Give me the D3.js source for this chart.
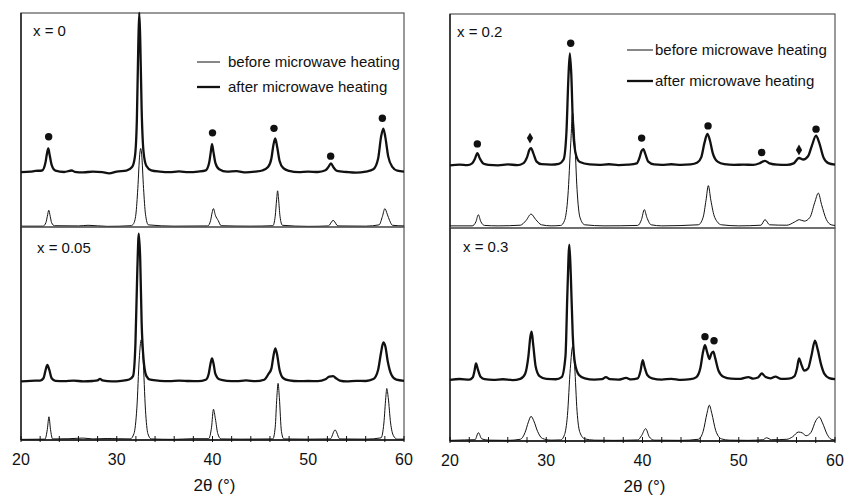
<html>
<head>
  <script src="https://d3js.org/d3.v7.min.js"></script>
  <meta charset="utf-8">
  <title>XRD before / after microwave heating</title>
<style>
body { margin: 0; background: #fff; }
svg { background: #fff; font-family: "Liberation Sans", Arial, sans-serif; }
text { fill: #111; }
</style>
</head>
<body>
<script>
var width = 851,
    height = 495;

// x axis ticks (2theta, degrees)
var majorTicks = [20, 30, 40, 50, 60];
var minorTicks = [22, 24, 26, 28, 32, 34, 36, 38, 42, 44, 46, 48, 52, 54, 56, 58];

// intensities are read as % of panel height, [2theta, I]
var before_x0 = [[20,0.4],[22.3,0.4],[22.6,2],[22.75,5],[22.9,7.8],[23.05,5],[23.2,2],[23.5,0.6],[26,0.5],[27,0.8],[29,0.3],[31.5,0.6],
  [31.75,1.5],[32.0,6],[32.2,18],[32.4,34],[32.5,36.7],[32.6,34],[32.8,18],[33.0,6],[33.3,1],[36,0.4],[39.5,0.5],
  [39.8,3],[39.95,6.5],[40.1,8.6],[40.3,5.5],[40.6,3],[40.9,0.6],[44,0.4],[46.3,0.6],[46.55,5],[46.7,13],[46.8,16.9],[46.9,13],[47.05,5],[47.3,0.8],
  [50,0.3],[52.1,0.5],[52.6,3.1],[53.1,0.5],[56,0.4],[57.4,1],[57.75,5],[58.0,8.6],[58.25,6],[58.5,3],[58.8,0.8],[60,0.5]];
var after_x0 = [[20,25.6],[21,25.9],[21.5,26.2],[22.2,26.4],[22.55,30],[22.7,34],[22.85,36.7],[23.0,33.5],[23.2,29],
  [23.6,26.3],[24.5,25.7],[25.3,26.4],[25.6,25.8],[26.5,25.5],[27.5,25.9],[28.5,25.6],[29.2,25.1],[30,25.9],[31,26.3],
  [31.6,28],[31.9,33],[32.1,50],[32.25,85],[32.35,100],[32.45,88],[32.6,55],[32.8,35],[33.1,28.5],[33.6,26.5],
  [34.5,25.9],[35.5,25.6],[36.5,26.0],[37.5,25.6],[38.5,25.9],[39.3,26.5],[39.65,30],[39.82,35],[39.95,38.7],
  [40.1,35],[40.3,30],[40.7,27],[41.5,25.9],[42.5,26.1],[43.5,25.5],[44.5,25.9],[45.2,26.4],[45.8,28],[46.15,32],
  [46.35,38],[46.55,41.4],[46.75,37.5],[47.0,31],[47.4,27.5],[48,26.2],[49,25.6],[50,25.9],[51,25.7],[51.8,26.5],
  [52.1,28],[52.37,29.7],[52.65,27.8],[53,26.2],[54,25.7],[55,25.4],[56,25.9],[56.8,27],[57.3,32],[57.6,42],
  [57.84,46],[58.05,42],[58.35,33],[58.8,28],[59.3,26.3],[60,25.9]];

var before_x005 = [[20,0.3],[22.5,0.4],[22.75,5],[22.92,10.9],[23.08,5],[23.3,0.5],[25,0.6],[26.5,0.9],[27.5,0.5],
  [29,0.7],[31.4,0.5],[31.8,3],[32.1,15],[32.35,38],[32.55,47],[32.75,38],[33.0,14],[33.25,3],[33.6,0.5],[36,0.3],
  [38,0.6],[39.6,0.6],[39.9,6],[40.1,14.4],[40.3,10],[40.55,3],[40.9,0.5],[43,0.4],[46.3,0.5],[46.55,6],[46.72,20],
  [46.85,26.6],[46.98,20],[47.2,4],[47.45,0.5],[50,0.4],[52.3,0.5],[52.8,4.7],[53.3,0.5],[56,0.4],[57.6,1],[57.9,8],
  [58.1,20],[58.2,24.2],[58.35,20],[58.6,8],[58.9,2],[59.3,0.4],[60,0.4]];
var after_x005 = [[20,27.5],[21,27.8],[22,27.9],[22.35,29],[22.55,32.5],[22.75,35.2],[22.95,33],[23.2,29],[23.6,27.8],
  [24.5,27.6],[25.5,27.9],[26.5,27.5],[27.5,27.7],[28.0,28],[28.25,28.7],[28.5,28],[29.5,27.5],[30.5,27.8],[31.3,28.4],
  [31.7,30],[31.95,45],[32.15,80],[32.3,96.9],[32.45,85],[32.6,55],[32.8,38],[33.1,30],[33.5,28.3],[34.5,27.8],
  [35.5,27.6],[36.5,27.9],[37.5,27.7],[38.5,27.6],[39.3,28.3],[39.6,31],[39.8,36],[39.95,38.3],[40.1,36],[40.3,31],
  [40.7,28.5],[41.5,27.8],[42.5,27.6],[43.5,28],[44.5,27.6],[45.4,28.3],[45.85,31],[46.15,33.5],[46.35,39],
  [46.56,43],[46.75,40],[47.0,33],[47.4,29],[48,28],[49,27.6],[50,27.7],[51,27.6],[51.8,28.5],[52.2,29.8],
  [52.6,30],[52.9,29],[53.3,27.9],[54,27.5],[55,27.8],[56,27.7],[56.8,28.6],[57.3,33],[57.6,41],[57.84,45.8],
  [58.05,44],[58.3,37],[58.7,30.5],[59.2,28.3],[60,27.8]];

var before_x02 = [[20,1],[22.3,1],[22.7,3],[22.94,6.2],[23.2,3],[23.6,1.2],[25,1],[27.3,1.3],[27.9,3.5],[28.42,6.5],
  [28.9,4],[29.5,1.5],[30.5,1],[31.5,1.2],[31.9,3.5],[32.25,15],[32.55,40],[32.74,53.7],[32.95,42],[33.2,18],[33.5,5],
  [34,1.5],[36,1],[39.5,1.2],[39.9,4],[40.19,8.6],[40.45,5],[40.9,1.5],[42,1],[45.8,1.5],[46.3,5],[46.6,13],
  [46.84,19.8],[47.1,13],[47.5,5],[48.2,1.5],[50,1],[52.3,1.3],[52.73,3.9],[53.2,1.5],[55,1.3],[55.8,2.8],[56.3,3.9],
  [56.8,3.2],[57.4,5],[57.9,12],[58.27,16.3],[58.6,11],[59.1,4],[59.6,1.5],[60,1.2]];
var after_x02 = [[20,29.3],[21,29.6],[21.8,29.4],[22.3,30.2],[22.6,32.5],[22.84,35],[23.1,32.5],[23.5,30],[24,29.5],
  [25,29.3],[26,29.7],[27,29.4],[27.6,30.2],[28.0,33],[28.25,36.5],[28.42,37.3],[28.65,35],[29.0,31],[29.5,29.8],
  [30.5,29.6],[31.3,30],[31.8,32],[32.1,45],[32.3,70],[32.45,81.6],[32.6,72],[32.8,45],[33.1,34],[33.5,30.8],
  [34.5,29.7],[35.5,29.5],[36.5,29.8],[37.5,29.4],[38.5,29.6],[39.4,30.2],[39.7,33],[39.9,36],[40.09,36.9],
  [40.3,34.5],[40.6,31],[41.2,29.7],[42,29.5],[43,29.8],[44,29.5],[45,29.7],[45.7,30.6],[46.1,33],[46.45,40],
  [46.74,44],[47.0,41],[47.3,35],[47.8,31],[48.5,29.8],[49.5,29.5],[50.5,29.6],[51.5,29.5],[52.2,30.3],[52.73,31.4],
  [53.2,30.2],[54,29.6],[55,29.5],[55.7,30.2],[56.26,32.7],[56.7,32],[57.2,33.5],[57.6,38.5],[58.03,43.2],
  [58.35,40],[58.8,33],[59.3,30.3],[60,29.6]];

var before_x03 = [[20,0.3],[21.5,0.5],[22.6,0.6],[22.95,3.9],[23.3,1],[24,0.4],[26,0.3],[27.3,0.8],[27.8,4],[28.15,9],
  [28.42,11.6],[28.7,9.5],[29.1,4.5],[29.6,1.2],[30.5,0.4],[31.5,0.5],[31.9,3],[32.2,12],[32.5,34],[32.74,44.3],
  [32.95,35],[33.2,14],[33.5,4],[34,1],[35,0.4],[37,0.3],[39.5,0.5],[39.9,2.5],[40.33,5.8],[40.7,2],[41.2,0.4],
  [44,0.3],[45.8,0.8],[46.3,4.5],[46.7,13],[46.94,16.8],[47.2,13],[47.6,5],[48.2,1],[49,0.4],[51,0.3],[52.5,0.6],
  [52.9,1.5],[53.4,0.6],[55,0.8],[55.6,2],[56.2,4.2],[56.6,3.8],[57.0,2.5],[57.5,4],[58.0,9.5],[58.37,11.3],
  [58.7,8.5],[59.2,3],[59.6,0.8],[60,0.5]];
var after_x03 = [[20,28.7],[21,29.1],[22,28.8],[22.35,29.8],[22.55,33],[22.7,36.4],[22.9,33.5],[23.2,30],[23.6,29],
  [24.5,28.7],[25.5,29],[26.5,28.6],[27.3,29.2],[27.8,31.5],[28.15,40],[28.35,49],[28.48,51.3],[28.65,45],[28.9,35],
  [29.3,30.5],[30,29.2],[31,29],[31.6,30],[32.0,40],[32.2,70],[32.4,92.2],[32.55,78],[32.75,50],[33.0,36],[33.4,31],
  [34,29.4],[35,28.8],[35.8,29],[36.2,30],[36.6,29],[37.5,28.8],[38.3,29.6],[38.8,28.9],[39.5,29.4],[39.8,33],
  [40.02,38],[40.2,35],[40.5,31],[41,29.4],[42,28.8],[43,29.2],[44,28.7],[45,29],[45.6,30],[46.0,34],[46.3,42],
  [46.49,45],[46.7,42],[46.95,38.5],[47.15,41],[47.36,41.9],[47.55,39],[47.9,33],[48.4,30.2],[49.2,29.3],[50.2,29.2],
  [51.0,30],[51.5,29.3],[52.0,29.8],[52.38,31.7],[52.8,30],[53.3,29.4],[53.8,30.2],[54.4,29.2],[55.2,29.3],
  [55.8,30.5],[56.05,34],[56.26,38.8],[56.5,36],[56.8,33],[57.2,34],[57.55,40],[57.92,47.1],[58.2,43],[58.55,36],
  [58.9,31.5],[59.4,29.5],[60,29]];

// phase markers
var circles_x0 = [[22.89,42.2],[40.0,44],[46.42,46.1],[52.34,33.1],[57.74,50.8]];
var circles_x02 = [[22.84,39.3],[32.54,86.3],[39.91,42],[46.81,47.7],[52.38,35.3],[58.03,46.2]];
var diamonds_x02 = [[28.31,42],[56.26,36.5]];
var circles_x03 = [[46.49,49],[47.43,47.1]];

var labels = ['x = 0', 'x = 0.05', 'x = 0.2', 'x = 0.3'];
var legendNames = ['before microwave heating', 'after microwave heating'];

// layout of the four panels
var panels = [
  {label: labels[0], x0: 21, x1: 404, top: 13, bottom: 227, before: before_x0, after: after_x0,
   circles: circles_x0, diamonds: [], lx: 12, ly: 23, legend: {x: 197, y: 62, len: 23, gap: 25}},
  {label: labels[1], x0: 21, x1: 404, top: 227, bottom: 440, before: before_x005, after: after_x005,
   circles: [], diamonds: [], lx: 16, ly: 26, axis: true},
  {label: labels[2], x0: 450, x1: 835, top: 14, bottom: 228, before: before_x02, after: after_x02,
   circles: circles_x02, diamonds: diamonds_x02, lx: 7, ly: 23, legend: {x: 627, y: 50, len: 26, gap: 31, tight: true}},
  {label: labels[3], x0: 450, x1: 835, top: 228, bottom: 441, before: before_x03, after: after_x03,
   circles: circles_x03, diamonds: [], lx: 13, ly: 24, axis: true}
];

var svg = d3.select('body').append('svg')
  .attr('width', width)
  .attr('height', height);

panels.forEach(function (p) {
  var x = d3.scaleLinear().domain([20, 60]).range([p.x0, p.x1]);
  var y = d3.scaleLinear().domain([0, 100]).range([p.bottom, p.top]);
  var g = svg.append('g');

  // frame
  g.append('rect')
    .attr('x', p.x0).attr('y', p.top)
    .attr('width', p.x1 - p.x0).attr('height', p.bottom - p.top)
    .attr('fill', 'none').attr('stroke', '#555').attr('stroke-width', 1.2);
  g.append('line')
    .attr('x1', p.x0).attr('x2', p.x0).attr('y1', p.top).attr('y2', p.bottom)
    .attr('stroke', '#111').attr('stroke-width', 1.3);

  var line = d3.line()
    .x(function (d) { return x(d[0]); })
    .y(function (d) { return y(d[1]); })
    .curve(d3.curveMonotoneX);

  g.append('path').datum(p.before)
    .attr('d', line).attr('fill', 'none')
    .attr('stroke', '#111').attr('stroke-width', 1);
  g.append('path').datum(p.after)
    .attr('d', line).attr('fill', 'none')
    .attr('stroke', '#111').attr('stroke-width', 2.3)
    .attr('stroke-linejoin', 'round');

  g.selectAll('circle.mark').data(p.circles).enter()
    .append('circle').attr('class', 'mark')
    .attr('cx', function (d) { return x(d[0]); })
    .attr('cy', function (d) { return y(d[1]); })
    .attr('r', 3.7).attr('fill', '#111');
  g.selectAll('path.dia').data(p.diamonds).enter()
    .append('path').attr('class', 'dia')
    .attr('d', d3.symbol().type(d3.symbolDiamond).size(34))
    .attr('transform', function (d) { return 'translate(' + x(d[0]) + ',' + y(d[1]) + ')'; })
    .attr('fill', '#111');

  g.append('text')
    .attr('x', p.x0 + p.lx).attr('y', p.top + p.ly)
    .style('font-size', '15px')
    .text(p.label);

  if (p.legend) {
    var L = p.legend;
    legendNames.forEach(function (name, i) {
      var ly = L.y + i * L.gap;
      g.append('line')
        .attr('x1', L.x).attr('x2', L.x + L.len).attr('y1', ly).attr('y2', ly)
        .attr('stroke', '#111').attr('stroke-width', i === 0 ? 1 : 2.3);
      g.append('text')
        .attr('x', L.x + L.len + (L.tight ? 2 : 8)).attr('y', ly + 5)
        .style('font-size', '15px')
        .text(name);
    });
  }

  if (p.axis) {
    var ax = g.append('g').attr('transform', 'translate(0,' + p.bottom + ')');
    ax.selectAll('line.tk').data(majorTicks.concat(minorTicks)).enter()
      .append('line').attr('class', 'tk')
      .attr('x1', function (d) { return x(d); }).attr('x2', function (d) { return x(d); })
      .attr('y1', -4).attr('y2', 2)
      .attr('stroke', '#111').attr('stroke-width', 1);
    ax.append('line').attr('x1', p.x0).attr('x2', p.x1)
      .attr('stroke', '#111').attr('stroke-width', 1.3);
    ax.selectAll('text.tl').data(majorTicks).enter()
      .append('text').attr('class', 'tl')
      .attr('x', function (d) { return x(d); })
      .attr('y', 25)
      .attr('text-anchor', 'middle')
      .style('font-size', '16px')
      .text(function (d) { return d; });
    ax.append('text')
      .attr('x', (p.x0 + p.x1) / 2 + 2).attr('y', 51)
      .attr('text-anchor', 'middle')
      .style('font-size', '17px')
      .text('2\u03b8 (\u00b0)');
  }
});
</script>
</body>
</html>
